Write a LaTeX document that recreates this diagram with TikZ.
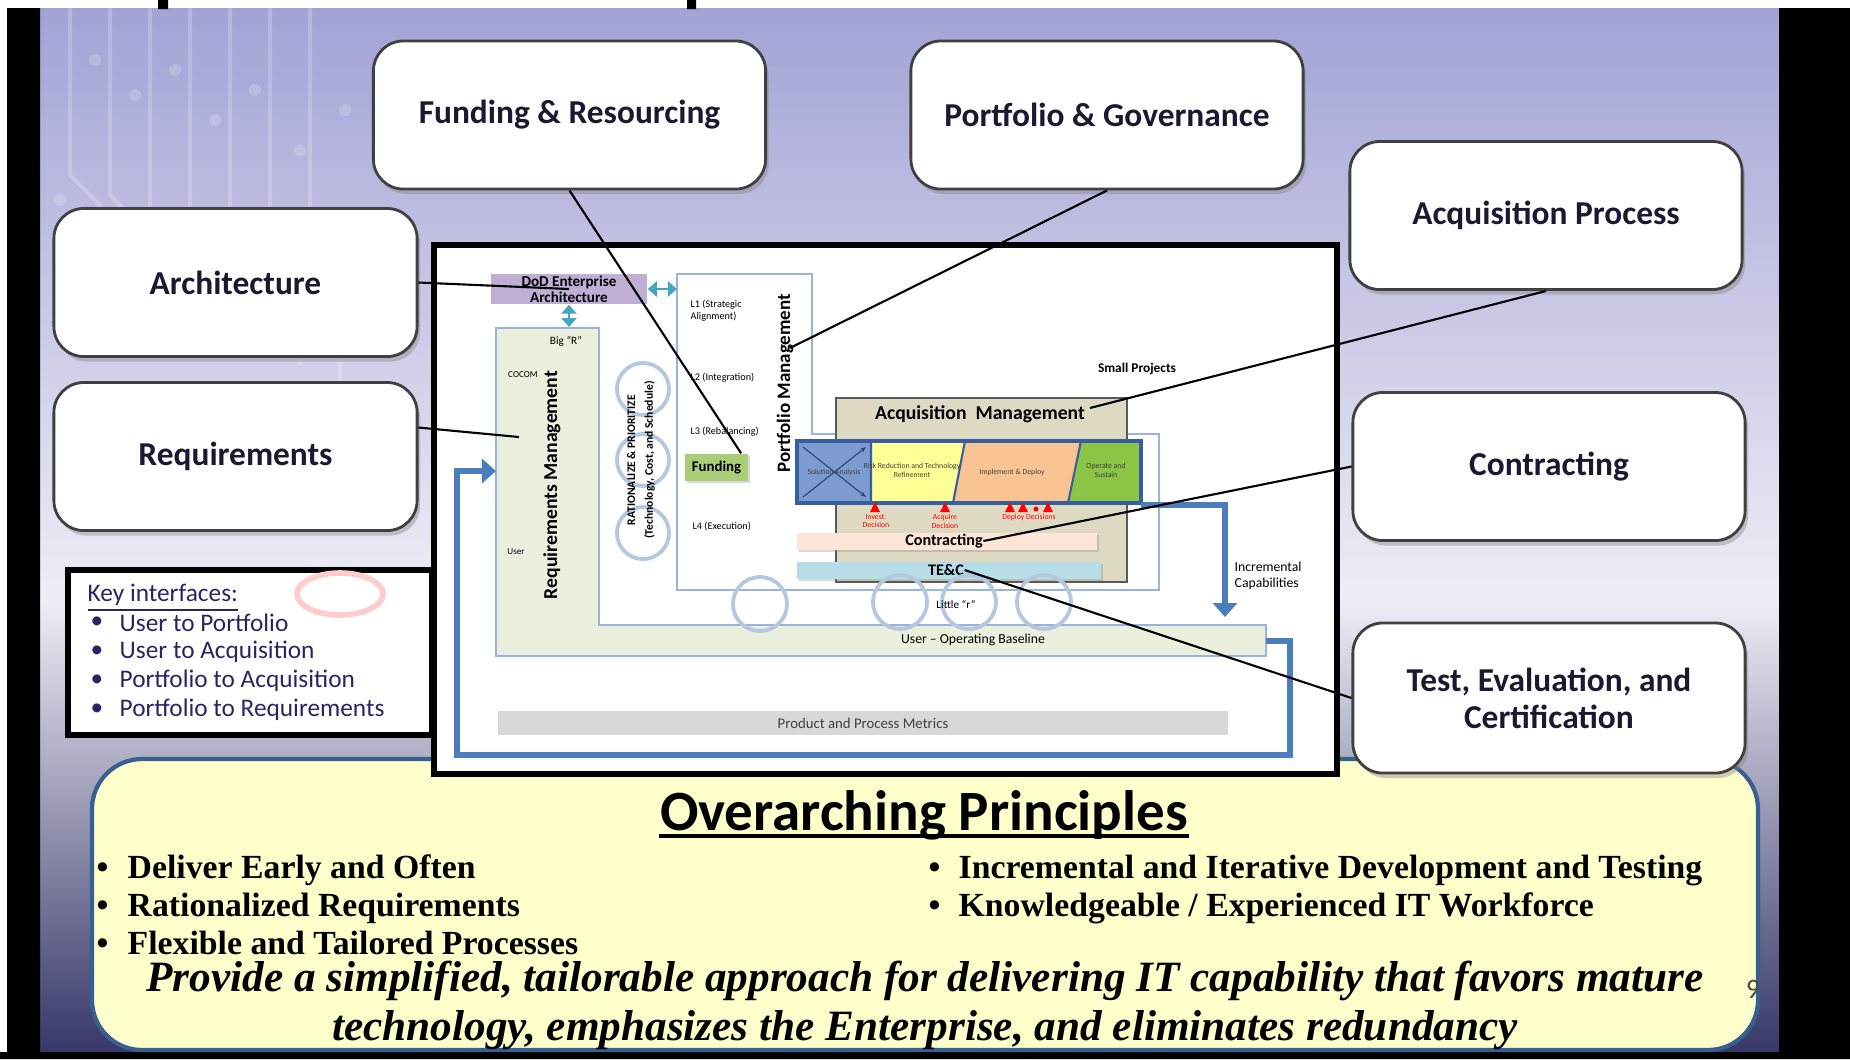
\documentclass[tikz,border=0pt]{standalone}
\usepackage{fontspec}
\setmainfont{Carlito}
\newfontfamily\timesfont{Liberation Serif}
\usetikzlibrary{arrows.meta,shadows}
\definecolor{bgtop}{RGB}{162,162,214}
\definecolor{bgmid}{RGB}{238,238,246}
\definecolor{bglow}{RGB}{172,172,204}
\definecolor{bgbot}{RGB}{55,55,105}
\definecolor{labelink}{RGB}{25,25,50}
\definecolor{keyink}{RGB}{45,35,100}
\definecolor{edgeblue}{RGB}{150,180,220}
\definecolor{ringblue}{RGB}{180,200,226}
\definecolor{flowblue}{RGB}{74,126,187}
\definecolor{reqfill}{RGB}{235,240,222}
\definecolor{eafill}{RGB}{191,175,212}
\definecolor{fundfill}{RGB}{170,205,120}
\definecolor{acqfill}{RGB}{221,217,195}
\definecolor{phaseedge}{RGB}{55,95,160}
\definecolor{phaseblue}{RGB}{125,155,208}
\definecolor{phaseyellow}{RGB}{255,255,150}
\definecolor{phaseorange}{RGB}{250,196,146}
\definecolor{phasegreen}{RGB}{140,196,70}
\definecolor{contfill}{RGB}{252,228,214}
\definecolor{tecfill}{RGB}{183,222,232}
\definecolor{metricfill}{RGB}{216,216,216}
\definecolor{principlefill}{RGB}{255,255,204}
\definecolor{principleedge}{RGB}{55,95,145}
\definecolor{tealink}{RGB}{70,165,185}
\begin{document}
\begin{tikzpicture}[x=0.01cm,y=-0.01cm,
		bigbox/.style={draw=black!75,fill=white,rounded corners=3mm,line width=0.8pt,
			minimum width=3.92cm,minimum height=1.48cm,align=center,inner sep=0pt,
			text=labelink,font=\fontsize{9.5}{10.6}\selectfont\bfseries,
			drop shadow={shadow xshift=0.3mm,shadow yshift=-0.5mm,opacity=0.4}},
		leader/.style={black,line width=0.6pt},
		smalltag/.style={inner sep=0pt,font=\fontsize{3.2}{3.6}\selectfont},
		phasetag/.style={inner sep=0pt,align=center,text=black!75,font=\fontsize{2.2}{2.5}\selectfont},
		ring/.style={draw=ringblue,line width=1.1pt},
		flow/.style={flowblue,line width=1.6pt,-{Triangle[length=1.4mm,width=2.4mm]}},
		dual/.style={tealink,line width=0.8pt,{Triangle[length=0.9mm,width=1.5mm]}-{Triangle[length=0.9mm,width=1.5mm]}},
		keyline/.style={anchor=west,inner sep=0pt,text=keyink,font=\fontsize{7.2}{8}\selectfont},
		principle/.style={anchor=west,inner sep=0pt,text height=7pt,text depth=0.5pt,font=\timesfont\bfseries\fontsize{9.6}{11}\selectfont},
		trace/.style={white,opacity=0.2,line width=1.2pt}
	]
	\useasboundingbox (0,0) rectangle (1850,1059);
	\fill[white] (0,0) rectangle (1850,1059);
	\shade[top color=bgtop,bottom color=bgmid] (40,8) rectangle (1779,600);
	\shade[top color=bgmid,middle color=bglow,bottom color=bgbot] (40,600) rectangle (1779,1052);
	\foreach \tx in {70,110,150,190,230,270,310}
		\draw[trace] (\tx,8) -- (\tx,140+\tx/2) -- ++(30,30) -- ++(0,60);
	\foreach \tx/\ty in {95/60,135/95,175/70,215/120,255/90,300/150,345/110,60/200,120/230,380/60}
		\fill[white,opacity=0.18] (\tx,\ty) circle [radius=0.06cm];
	\fill[black] (7,8) rectangle (40,1059) (1779,8) rectangle (1850,1059) (0,1052) rectangle (1850,1059);
	\fill[black] (158,0) rectangle (168,9) (687,0) rectangle (696,9);

	\draw[principleedge,fill=principlefill,line width=1.2pt,rounded corners=5mm] (92,759) rectangle (1758,1050);
	\node[inner sep=0pt,font=\fontsize{16.2}{18}\selectfont\bfseries] (princtitle) at (924,815) {Overarching Principles};
	\coordinate (underline) at (0,836);
	\draw[line width=1.2pt] (princtitle.west |- underline) -- (princtitle.east |- underline);
	\foreach \txt [count=\i] in {Deliver Early and Often,Rationalized Requirements,Flexible and Tailored Processes}{
		\node[principle] at (96,829+38*\i) {\textbullet};
		\node[principle] (lrule\i) at (127,829+38*\i) {\txt};
	}
	\foreach \txt [count=\i] in {Incremental and Iterative Development and Testing,Knowledgeable / Experienced IT Workforce}{
		\node[principle] at (928,829+38*\i) {\textbullet};
		\node[principle] (rrule\i) at (958,829+38*\i) {\txt};
	}
	\node[inner sep=0pt,align=center,font=\timesfont\bfseries\itshape\fontsize{12.3}{13.9}\selectfont] (motto) at (925,1005)
		{Provide a simplified, tailorable approach for delivering IT capability that favors mature\\technology, emphasizes the Enterprise, and eliminates redundancy};
	\node[inner sep=0pt,text=black!70,font=\fontsize{8}{9}\selectfont] (pageno) at (1753,989) {9};

	\node[bigbox] (fundbox) at (569.5,115) {Funding \& Resourcing};
	\node[bigbox] (portbox) at (1107,115) {Portfolio \& Governance};
	\node[bigbox] (acqbox) at (1546,215.5) {Acquisition Process};
	\node[bigbox,minimum width=3.63cm] (archbox) at (235.5,282.5) {Architecture};
	\node[bigbox,minimum width=3.63cm] (reqbox) at (235.5,456.5) {Requirements};
	\node[bigbox] (contbox) at (1549,466.5) {Contracting};
	\node[bigbox,minimum height=1.5cm] (tecbox) at (1549,698) {Test, Evaluation, and\\Certification};

	\draw[black,line width=1.5pt,fill=white] (68,570) rectangle (432,735);
	\draw[red!20!white,line width=1.6pt] (340,594) ellipse [x radius=0.43cm,y radius=0.21cm];
	\node[keyline] (keyhead) at (87,598) {\underline{Key interfaces:}};
	\foreach \txt [count=\i] in {User to Portfolio,User to Acquisition,Portfolio to Acquisition,Portfolio to Requirements}{
		\node[keyline] at (90,594+29*\i) {\textbullet};
		\node[keyline] (key\i) at (119,594+29*\i) {\txt};
	}

	\draw[black,line width=1.5pt,fill=white] (434,245) rectangle (1337,774);
	\draw[edgeblue,fill=reqfill,line width=0.5pt] (496,328) -- (599,328) -- (599,625) -- (1266,625) -- (1266,656) -- (496,656) -- cycle;
	\draw[edgeblue,fill=white,line width=0.5pt] (677,274) -- (812,274) -- (812,434) -- (1159,434) -- (1159,590) -- (677,590) -- cycle;
	\node[fill=eafill,minimum width=1.56cm,minimum height=0.3cm,inner sep=0pt,align=center,font=\fontsize{4.3}{4.6}\selectfont\bfseries] (dodea) at (569,289) {DoD Enterprise\\Architecture};
	\coordinate (reqtop) at (567,327);
	\coordinate (portleft) at (677,289);
	\draw[dual] (dodea.south) -- (dodea.south |- reqtop);
	\draw[dual] (dodea.east) -- (portleft);

	\node[smalltag] (bigr) at (566,341) {Big ``R''};
	\node[smalltag,font=\fontsize{2.6}{3}\selectfont] (cocom) at (523,375) {COCOM};
	\node[smalltag,font=\fontsize{2.6}{3}\selectfont] (usertag) at (516,552) {User};
	\node[rotate=90,inner sep=0pt,font=\fontsize{5.6}{6}\selectfont\bfseries] (reqmgmt) at (552,485) {Requirements Management};

	\foreach \cy in {389,460,533}
		\draw[ring] (643,\cy) circle [radius=0.26cm];
	\node[rotate=90,inner sep=0pt,align=center,font=\fontsize{3.3}{5.1}\selectfont\bfseries] (ratnl) at (641,460) {RATIONALIZE \& PRIORITIZE\\(Technology, Cost, and Schedule)};

	\node[smalltag,anchor=west,align=left,font=\fontsize{2.9}{3.4}\selectfont] (lvl1) at (690,311) {L1 (Strategic\\Alignment)};
	\node[smalltag,anchor=west,font=\fontsize{2.9}{3.4}\selectfont] (lvl2) at (690,378) {L2 (Integration)};
	\node[smalltag,anchor=west,font=\fontsize{2.9}{3.4}\selectfont] (lvl3) at (690,432) {L3 (Rebalancing)};
	\node[smalltag,anchor=west,font=\fontsize{2.9}{3.4}\selectfont] (lvl4) at (692,526) {L4 (Execution)};
	\node[fill=fundfill,minimum width=0.63cm,minimum height=0.27cm,inner sep=0pt,font=\fontsize{4.2}{5}\selectfont\bfseries,
		drop shadow={shadow xshift=0.2mm,shadow yshift=-0.2mm,opacity=0.3}] (funding) at (716.5,467.5) {Funding};
	\node[rotate=90,inner sep=0pt,font=\fontsize{5.4}{6}\selectfont\bfseries] (portmgmt) at (785,383) {Portfolio Management};

	\draw[gray!70!black,fill=acqfill,line width=0.5pt] (836,398) rectangle (1127,582);
	\node[inner sep=0pt,font=\fontsize{5.6}{6}\selectfont\bfseries] (acqmgmt) at (980,414) {Acquisition\ \ Management};
	\fill[phaseblue] (797,441) rectangle (871,503);
	\fill[phaseyellow] (871,441) -- (965,441) -- (953,503) -- (871,503) -- cycle;
	\fill[phaseorange] (965,441) -- (1081,441) -- (1068,503) -- (953,503) -- cycle;
	\fill[phasegreen] (1081,441) -- (1141,441) -- (1141,503) -- (1068,503) -- cycle;
	\draw[phaseedge,line width=0.6pt] (871,441) -- (871,503) (965,441) -- (953,503) (1081,441) -- (1068,503);
	\draw[phaseedge,line width=1.1pt] (797,441) rectangle (1141,503);
	\draw[phaseedge!70!black,line width=0.3pt,-{Stealth[length=0.6mm]}] (803,497) -- (866,447);
	\draw[phaseedge!70!black,line width=0.3pt,-{Stealth[length=0.6mm]}] (803,447) -- (866,497);
	\node[phasetag] (solan) at (834,472) {Solution Analysis};
	\node[phasetag] (riskred) at (912,470) {Risk Reduction and Technology\\Refinement};
	\node[phasetag] (impdep) at (1012,472) {Implement \& Deploy};
	\node[phasetag] (opsus) at (1106,470) {Operate and\\Sustain};
	\foreach \mx in {875,945,1010,1023,1048}
		\fill[red] (\mx-5,512) -- (\mx+5,512) -- (\mx,502) -- cycle;
	\fill[red] (1036,509) circle [radius=0.025cm];
	\node[phasetag,text=red] (invdec) at (876,521) {Invest.\\Decision};
	\node[phasetag,text=red] (acqdec) at (945,521) {Acquire\\Decision};
	\node[phasetag,text=red] (depdec) at (1029,517) {Deploy Decisions};

	\node[fill=contfill,minimum width=3cm,minimum height=0.17cm,inner sep=0pt,
		drop shadow={shadow xshift=0.2mm,shadow yshift=-0.2mm,opacity=0.3}] (contbar) at (947,541.5) {};
	\node[inner sep=0pt,font=\fontsize{4.6}{5}\selectfont\bfseries] (contlbl) at (944,541) {Contracting};
	\node[fill=tecfill,minimum width=3.04cm,minimum height=0.17cm,inner sep=0pt,
		drop shadow={shadow xshift=0.2mm,shadow yshift=-0.2mm,opacity=0.3}] (tecbar) at (949,570.5) {};
	\node[inner sep=0pt,font=\fontsize{4.6}{5}\selectfont\bfseries] (teclbl) at (946,570) {TE\&C};

	\foreach \cx/\cy in {760/604,900/602,969/602,1044/602}
		\draw[ring] (\cx,\cy) circle [radius=0.27cm];
	\node[smalltag] (littler) at (956,604) {Little ``r''};
	\node[smalltag,font=\fontsize{3.9}{4.2}\selectfont] (opbase) at (973,640) {User -- Operating Baseline};
	\node[fill=metricfill,minimum width=7.3cm,minimum height=0.24cm,inner sep=0pt,text=black!75,font=\fontsize{4.2}{5}\selectfont] (metrics) at (863,723) {Product and Process Metrics};
	\node[smalltag,font=\fontsize{3.8}{4.2}\selectfont\bfseries] (smallproj) at (1137,369) {Small Projects};
	\node[smalltag,anchor=west,align=left,font=\fontsize{3.9}{4.6}\selectfont] (inccap) at (1234,576) {Incremental\\Capabilities};

	\coordinate (opend) at (1266,641);
	\coordinate (reqin) at (496,471);
	\coordinate (lifeend) at (1141,505);
	\coordinate (incend) at (1225,617);
	\draw[flow] (opend) -- ++(24,0) -- ++(0,114) -- ++(-833,0) |- (reqin);
	\draw[flow] (lifeend) -| (incend);

	\coordinate (reqpt) at (519,437);
	\coordinate (pmpt) at (790,348);
	\coordinate (smallpt) at (1090,408);
	\draw[leader] (archbox.east) -- (dodea.center);
	\draw[leader] (reqbox.9) -- (reqpt);
	\draw[leader] (fundbox.south) -- (funding.30);
	\draw[leader] (portbox.south) -- (pmpt);
	\draw[leader] (acqbox.south) -- (smallpt);
	\draw[leader] (contbox.west) -- (contlbl.east);
	\draw[leader] (tecbox.west) -- (teclbl.east);
\end{tikzpicture}
\end{document}
